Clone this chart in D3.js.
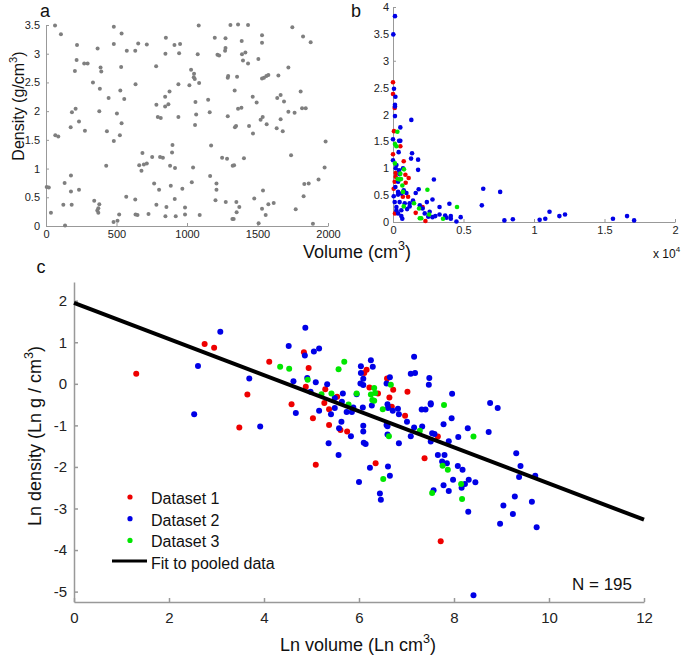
<!DOCTYPE html>
<html>
<head>
<meta charset="utf-8">
<script src="https://cdn.jsdelivr.net/npm/d3@7"></script>
<style>
  body { margin: 0; background: white; font-family: "Liberation Sans", Arial, sans-serif; }
  svg { display: block; }
  .axis path, .axis line { stroke: #999; }
  .axis text { fill: #222; font-family: "Liberation Sans", Arial, sans-serif; }
</style>
</head>
<body>
<svg id="chart" width="683" height="656"></svg>
<script>

  // panel a: volume (cm3) vs density (g/cm3), simulated uniform points
  let volA = [5,20,64,106,220,366,217,271,295,205,333,382,392,387,481,536,481,573,533,444,555,527,378,210,184,234,175,276,66,87,432,503,536,524,481,427,132,177,177,234,182,123,35,135,342,371,364,371,378,569,479,507,519,633,635,649,727,635,633,654,715,781,661,694,715,684,677,753,767,783,783,793,814,809,829,802,850,847,845,845,876,868,880,885,897,894,854,847,913,920,915,911,951,944,939,939,967,986,986,1017,1029,1050,1048,1055,1076,1083,1086,1060,1065,1057,1043,1034,1090,1150,1161,1171,1164,1197,1216,1228,1273,1273,1270,1289,1292,1289,1249,1284,1209,1209,1202,1275,1308,1362,1433,1338,1355,1340,1348,1334,1324,1322,1331,1350,1352,1371,1362,1386,1388,1390,1414,1397,1433,1404,1440,1466,1468,1477,1494,1506,1508,1522,1532,1532,1532,1537,1546,1563,1577,1539,1532,1558,1565,1577,1615,1636,1640,1648,1664,1664,1679,1688,1719,1719,1738,1747,1763,1771,1806,1816,1842,1823,1877,1827,1832,1863,1893,1933,1976,1983]
  let densA = [0.68,0.67,3.49,3.34,3.15,3.09,2.89,2.83,2.83,2.70,2.50,2.39,2.69,2.76,3.47,3.35,3.17,3.05,2.77,2.23,2.21,2.36,2.00,2.04,1.98,1.82,1.72,1.66,1.58,1.56,1.65,1.96,1.79,1.58,1.48,1.05,0.75,0.88,0.60,0.63,0.37,0.37,0.23,0.01,0.44,0.31,0.27,0.23,0.38,0.51,0.07,0.09,0.20,0.46,0.20,0.19,0.21,2.47,3.05,3.18,3.16,2.78,1.06,1.07,1.09,1.27,0.96,1.20,0.74,0.37,2.11,1.90,1.88,1.20,1.19,0.63,3.28,3.00,2.25,2.08,2.34,2.12,1.05,0.70,1.41,1.28,0.33,0.17,0.47,0.17,1.01,3.15,3.17,3.01,2.47,1.90,0.65,0.32,0.20,2.45,2.72,2.65,2.59,2.56,2.99,3.49,2.49,2.16,1.94,1.76,1.02,0.76,0.19,2.20,1.98,1.40,0.87,3.28,2.98,2.97,3.27,3.10,3.05,2.58,2.61,1.91,1.19,1.17,0.74,0.63,0.45,0.42,3.50,3.51,3.50,2.36,2.60,1.72,1.74,1.06,1.05,0.12,0.12,0.42,0.24,0.33,2.04,2.06,3.22,2.99,3.02,2.88,2.83,1.18,1.74,2.25,1.61,0.48,2.15,2.91,0.05,1.85,2.57,3.19,3.32,1.90,2.58,2.61,2.63,0.62,0.30,0.19,1.77,0.38,0.40,1.70,2.23,2.62,2.28,1.86,1.65,2.17,2.76,1.99,1.23,3.46,1.97,0.29,2.34,2.05,2.05,3.30,3.20,0.52,0.73,0.74,0.04,0.81,1.02,1.47]

  // panel b: volume (x 10^4 cm3) vs density, per dataset
  let volB1 = [0,0,0.012,0.007,0.052,0,0.076,0.019,0.019,0.088,0.111,0.012,0.005,0.09,0.07,0.107,0.161,0.21,0.23,0.014]
  let densB1 = [2.60,2.38,2.12,1.69,1.41,1.26,1.13,0.91,0.84,0.88,0.82,0.75,0.62,0.73,0.47,0.47,0.17,0.28,0.02,0.16]
  let volB2 = [0.014,0.002,0.007,0.017,0.014,0.014,0.014,0.13,0.052,0,0.043,0.052,0.04,0.135,0.128,0.178,0.178,0.29,0,0.024,0.019,0.043,0.047,0.071,0.036,0.017,0.036,0.059,0.005,0.036,0.076,0.095,0.161,0.182,0.142,0.118,0.083,0.047,0.012,0.024,0.024,0.059,0.10,0.118,0.19,0.24,0.28,0.33,0.40,0.63,0.64,0.76,0.21,0.26,0.225,0.25,0.28,0.30,0.33,0.37,0.38,0.41,0.41,0.45,0.48,0.059,0.066,0.036,0.79,0.85,1.04,1.08,1.11,1.18,1.22,1.56,1.66,1.71]
  let densB2 = [3.83,3.49,2.48,2.33,2.18,2.15,1.97,1.90,1.76,1.54,1.51,1.51,1.30,1.28,1.18,1.16,0.97,0.79,1.15,1.06,1.00,0.96,0.89,1.00,0.75,0.65,0.56,0.53,0.48,0.51,0.59,0.54,0.54,0.61,0.40,0.35,0.35,0.37,0.37,0.28,0.22,0.22,0.24,0.29,0.31,0.37,0.42,0.28,0.34,0.31,0.62,0.56,0.25,0.19,0.16,0.10,0.09,0.11,0.14,0.12,0.08,0.11,0.06,0.01,0.09,0.11,0.06,0.16,0.03,0.05,0.04,0.06,0.19,0.11,0.14,0.06,0.11,0.03]
  let volB3 = [0.031,0.014,0.024,0.014,0.078,0.033,0.047,0.057,0.052,0.066,0.071,0.076,0.149,0.185,0.244,0.19,0.20,0.256,0.355,0.454]
  let densB3 = [1.68,1.45,1.41,1.09,0.98,0.80,0.79,0.80,0.90,0.68,0.56,0.29,0.35,0.25,0.60,0.07,0.07,0.14,0.06,0.28]

  // panel c: ln volume vs ln density, per dataset
  let lnVol1 = [1.31,2.75,2.95,3.65,3.48,4.11,4.58,4.84,4.94,4.88,5.03,5.29,5.27,5.37,5.54,5.37,5.61,5.75,5.09,6.16,6.11,6.22,6.40,6.59,6.72,6.64,6.69,6.97,7.02,7.66,7.38,6.35,7.72]
  let lnDens1 = [0.24,0.96,0.87,-0.26,-1.05,0.53,-0.49,0.76,0.38,-0.07,-0.83,-0.13,-0.46,-0.61,-0.31,-0.99,-1.11,-1.15,-1.95,0.34,0.26,-0.09,-0.23,0.13,-0.14,-0.33,-0.55,-0.77,-0.19,-1.27,-1.79,-1.91,-3.79]
  let lnVol2 = [2.61,2.53,3.08,3.69,3.92,4.52,4.62,4.67,4.87,4.86,5.05,5.16,4.91,5.09,4.98,5.16,5.33,5.41,5.49,5.49,5.58,5.63,5.66,5.64,5.74,5.85,5.83,5.36,5.57,5.88,6.0,6.04,6.25,6.29,6.04,6.09,6.03,6.09,6.27,6.08,5.95,6.58,6.65,6.60,6.61,6.71,6.82,6.84,7.01,6.58,6.60,6.09,6.09,6.10,6.14,6.60,6.84,7.09,7.16,7.33,7.16,7.09,7.18,7.32,7.40,7.48,7.47,7.51,7.51,7.96,7.95,7.78,7.54,7.59,7.51,7.89,8.09,8.29,8.76,8.92,8.73,9.31,9.40,7.66,7.80,7.75,7.85,8.08,8.18,6.23,6.61,6.65,6.44,6.46,7.98,7.78,7.89,7.57,8.16,8.23,8.31,8.45,8.30,8.41,9.37,9.71,9.28,9.64,9.04,9.24,8.97,9.74]
  let lnDens2 = [0.43,-0.73,1.25,0.13,-1.03,0.91,0.06,-0.70,1.35,0.68,0.78,0.85,0.14,0.04,-0.19,-0.65,-0.01,-0.73,-0.34,-0.58,-1.07,-0.91,-0.23,-0.43,-0.68,-0.68,-1.26,-1.43,-1.71,-0.57,-2.36,0.42,0.57,0.41,0.26,0.12,0.01,-0.03,-0.52,-0.57,-0.25,0.01,0.16,-0.49,-0.58,-0.65,-0.60,-0.73,-0.91,-0.99,-1.02,-1.01,-1.15,-1.42,-1.45,-1.22,-1.43,-1.26,-1.05,-1.03,0.65,0.24,0.26,-0.62,-0.62,0.14,-0.02,-0.47,-0.50,-0.24,-0.83,-0.97,-1.19,-1.21,-1.39,-1.38,-1.28,-1.07,-0.46,-0.58,-1.16,-1.67,-1.98,-1.71,-1.71,-1.87,-1.91,-1.98,-2.07,-2.02,-1.99,-2.21,-2.64,-2.79,-2.31,-2.44,-2.58,-2.56,-2.50,-2.41,-2.31,-2.37,-3.08,-5.09,-2.24,-2.21,-2.71,-2.84,-2.93,-3.13,-3.37,-3.45]
  let lnVol3 = [4.34,4.53,4.92,5.21,5.42,5.69,5.57,5.78,5.95,6.32,6.34,6.25,6.28,6.32,6.50,6.67,6.63,7.28,7.79,8.41,7.76,7.87,6.51,7.54,8.15,8.17]
  let lnDens3 = [0.41,0.36,0.10,-0.25,-0.23,0.53,0.35,-0.50,-0.23,-0.10,-0.22,-0.26,-0.39,-0.41,-0.61,-0.02,-1.26,-1.13,-0.51,-1.27,-1.97,-2.07,-2.29,-2.63,-2.41,-2.77]

  // fit to pooled data, end points
  let fitX = [0, 12]
  let fitY = [1.95, -3.27]

  let ticksA_x = [0, 500, 1000, 1500, 2000]
  let ticksA_y = [0, 0.5, 1, 1.5, 2, 2.5, 3, 3.5]
  let ticksB_x = [0, 0.5, 1, 1.5, 2]
  let ticksB_y = [0, 0.5, 1, 1.5, 2, 2.5, 3, 3.5, 4]
  let ticksC_x = [0, 2, 4, 6, 8, 10, 12]
  let ticksC_y = [-5, -4, -3, -2, -1, 0, 1, 2]

  let datasetNames = ["Dataset 1", "Dataset 2", "Dataset 3"]
  let datasetColors = ["#ee0000", "#0000e6", "#00e600"]

  let svg = d3.select("#chart")
  svg.append("rect").attr("width", 683).attr("height", 656).attr("fill", "white")

  function zip(xs, ys) {
    return xs.map((x, i) => ({ x: x, y: ys[i] }))
  }

  function drawAxes(xScale, yScale, xTicks, yTicks, opt) {
    let xAxis = d3.axisBottom(xScale).tickValues(xTicks).tickFormat(d => String(d))
      .tickSizeInner(-opt.tick).tickSizeOuter(0).tickPadding(opt.padX)
    let yAxis = d3.axisLeft(yScale).tickValues(yTicks).tickFormat(d => String(d))
      .tickSizeInner(-opt.tick).tickSizeOuter(0).tickPadding(opt.padY)
    let gx = svg.append("g").attr("class", "axis")
      .attr("transform", `translate(0,${yScale.range()[0]})`)
      .call(xAxis)
    let gy = svg.append("g").attr("class", "axis")
      .attr("transform", `translate(${xScale.range()[0]},0)`)
      .call(yAxis)
    ;[gx, gy].forEach(g => {
      g.selectAll("text").style("font-size", opt.font + "px")
      g.select(".domain").attr("stroke-width", opt.width)
      g.selectAll(".tick line").attr("stroke-width", opt.width)
    })
  }

  function drawDots(data, xScale, yScale, r, color) {
    svg.append("g").selectAll("circle")
      .data(data)
      .enter().append("circle")
      .attr("cx", d => xScale(d.x))
      .attr("cy", d => yScale(d.y))
      .attr("r", r)
      .attr("fill", color)
  }

  function label(x, y, size, parts, rotate) {
    let t = svg.append("text")
      .attr("transform", `translate(${x},${y})` + (rotate ? " rotate(-90)" : ""))
      .attr("text-anchor", "middle")
      .style("font-size", size + "px")
      .attr("fill", "#111")
    parts.forEach(p => {
      let s = t.append("tspan").text(p.t)
      if (p.sup) s.attr("dy", -size * 0.45).style("font-size", (size * 0.7) + "px")
      if (p.after) s.attr("dy", size * 0.45)
    })
    return t
  }

  // ---- panel a
  let xA = d3.scaleLinear().domain([0, 2000]).range([46, 328])
  let yA = d3.scaleLinear().domain([0, 3.5]).range([226, 25])
  drawAxes(xA, yA, ticksA_x, ticksA_y, { tick: 3, padX: 4, padY: 6, font: 11, width: 1 })
  drawDots(zip(volA, densA), xA, yA, 2, "#7f7f7f")

  // ---- panel b
  let xB = d3.scaleLinear().domain([0, 2]).range([393, 675])
  let yB = d3.scaleLinear().domain([0, 4]).range([222, 7])
  drawAxes(xB, yB, ticksB_x, ticksB_y, { tick: 3, padX: 4, padY: 4, font: 11, width: 1 })
  drawDots(zip(volB1, densB1), xB, yB, 2.3, datasetColors[0])
  drawDots(zip(volB2, densB2), xB, yB, 2.3, datasetColors[1])
  drawDots(zip(volB3, densB3), xB, yB, 2.3, datasetColors[2])

  // ---- panel c
  let xC = d3.scaleLinear().domain([0, 12]).range([74, 644])
  let yC = d3.scaleLinear().domain([-5.25, 2.45]).range([602, 282])
  drawAxes(xC, yC, ticksC_x, ticksC_y, { tick: 4, padX: 10, padY: 7, font: 15, width: 1.5 })
  drawDots(zip(lnVol1, lnDens1), xC, yC, 3, datasetColors[0])
  drawDots(zip(lnVol2, lnDens2), xC, yC, 3, datasetColors[1])
  drawDots(zip(lnVol3, lnDens3), xC, yC, 3, datasetColors[2])

  svg.append("path")
    .datum(zip(fitX, fitY))
    .attr("d", d3.line().x(d => xC(d.x)).y(d => yC(d.y)))
    .attr("stroke", "black")
    .attr("stroke-width", 4)
    .attr("fill", "none")

  // legend
  let legend = svg.append("g").attr("transform", "translate(130,497)")
  datasetNames.forEach((name, i) => {
    legend.append("circle").attr("cx", 0).attr("cy", i * 21.7).attr("r", 2.6).attr("fill", datasetColors[i])
    legend.append("text").attr("x", 21).attr("y", i * 21.7 + 7).style("font-size", "16px").attr("fill", "#111").text(name)
  })
  legend.append("line").attr("x1", -18).attr("x2", 17).attr("y1", 3 * 21.7 - 1).attr("y2", 3 * 21.7 - 1)
    .attr("stroke", "black").attr("stroke-width", 3)
  legend.append("text").attr("x", 21).attr("y", 3 * 21.7 + 7).style("font-size", "16px").attr("fill", "#111").text("Fit to pooled data")

  svg.append("text").attr("x", 572).attr("y", 590).style("font-size", "17px").attr("fill", "#111").text("N = 195")

  // ---- labels
  label(45, 17, 18, [{ t: "a" }])
  label(356, 17, 18, [{ t: "b" }])
  label(41, 273, 18, [{ t: "c" }])

  label(24, 106, 16, [{ t: "Density (g/cm" }, { t: "3", sup: true }, { t: ")", after: true }], true)
  label(357, 258, 18, [{ t: "Volume (cm" }, { t: "3", sup: true }, { t: ")", after: true }])
  label(41, 436, 18, [{ t: "Ln density (Ln g / cm" }, { t: "3", sup: true }, { t: ")", after: true }], true)
  label(358, 651, 18, [{ t: "Ln volume (Ln cm" }, { t: "3", sup: true }, { t: ")", after: true }])

  let xs = svg.append("text").attr("x", 653).attr("y", 258).style("font-size", "12px").attr("fill", "#111")
  xs.append("tspan").text("x 10")
  xs.append("tspan").attr("dy", -6).style("font-size", "8px").text("4")

</script>
</body>
</html>
